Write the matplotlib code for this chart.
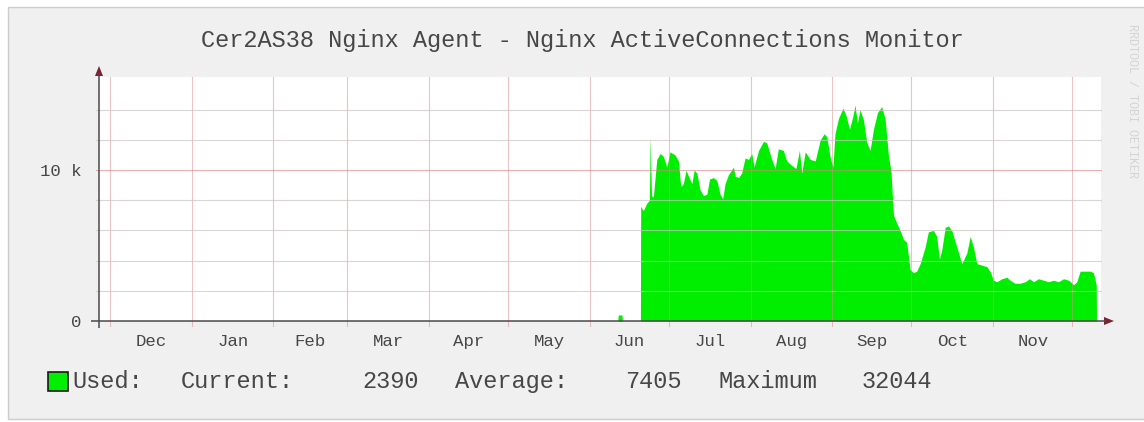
import numpy as np
import matplotlib
matplotlib.use("Agg")
import matplotlib.pyplot as plt
from matplotlib.patches import Rectangle, Polygon

# ---------------- data ----------------
title = "Cer2AS38 Nginx Agent - Nginx ActiveConnections Monitor"
month_labels = ["Dec", "Jan", "Feb", "Mar", "Apr", "May", "Jun", "Jul", "Aug", "Sep", "Oct", "Nov"]
month_lengths = [31, 31, 28, 31, 30, 31, 30, 31, 31, 30, 31, 30]
ytick_values = [0, 10000]
ytick_labels = ["0", "10 k"]
minor_grid_values = [2000, 4000, 6000, 8000, 12000, 14000]
major_grid_values = [10000]

# days since Dec 1 (start of window), connections in use
days = [192.6, 192.8, 194.2, 194.4,
        201.2, 201.3, 202.3, 203.6, 204.6, 204.9, 205.4, 206.1, 207.4, 208.7, 209.9,
        211.2, 212.4, 214.3, 215.6, 216.5, 217.5, 218.5, 219.4, 220.7, 221.6,
        222.6, 223.8, 225.1, 226.4, 227.4, 228.9, 230.2, 231.4, 232.4, 233.3,
        234.6, 235.8, 236.5, 237.1, 238.4, 239.6, 240.9, 242.2, 243.4, 244.3,
        246.0, 247.9, 249.1, 251.0, 252.3, 253.5, 255.4, 256.7, 258.6, 260.2,
        261.5, 262.4, 263.7, 265.6, 267.5, 269.4, 270.9, 271.9, 273.1, 274.2,
        275.0, 276.3, 278.0, 279.2, 280.5, 281.7, 282.6, 283.5, 284.5, 285.8,
        287.1, 288.3, 289.6, 291.1, 292.7, 294.0, 295.3, 296.2, 297.2, 298.4,
        299.7, 301.0, 302.2, 303.5, 304.8, 306.0, 307.3, 309.2, 310.4, 312.3,
        313.6, 314.6, 315.5, 316.8, 318.0, 319.3, 321.2, 323.1, 325.0, 326.3,
        327.5, 328.8, 330.7, 332.6, 333.8, 335.1, 336.4, 338.3, 340.2, 341.4,
        343.3, 345.2, 347.1, 348.8, 350.3, 352.2, 354.1, 356.0, 357.9, 359.8,
        361.7, 363.6, 365.5, 366.7, 368.0, 369.9, 371.8, 373.0, 374.1, 374.2]
used = [0, 400, 400, 0,
        0, 7600, 7300, 7800, 8000, 12200, 8300, 8200, 10700, 11100, 10900,
        10200, 11200, 11000, 10600, 8900, 9100, 10000, 9600, 9100, 10000,
        9800, 8700, 8300, 8400, 9400, 9500, 9300, 8400, 8100, 9100,
        9700, 10000, 10200, 9600, 9500, 9800, 10800, 10700, 11100, 10200,
        11300, 11900, 11800, 10700, 10100, 11400, 11300, 10600, 10300, 10100,
        11300, 9800, 11200, 10700, 10600, 12000, 12400, 12200, 10900, 10200,
        12400, 13400, 14100, 13600, 12700, 13500, 14300, 13100, 14000, 13300,
        11800, 11300, 12700, 13800, 14200, 13400, 10900, 10000, 7000, 6500,
        6000, 5400, 5200, 3400, 3200, 3300, 3800, 4900, 5900, 6000,
        5600, 4100, 4700, 6200, 6300, 6000, 4900, 3800, 4500, 5600,
        4900, 3800, 3700, 3600, 3300, 2700, 2600, 2800, 2900, 2700,
        2500, 2500, 2600, 2800, 2600, 2800, 2700, 2600, 2700, 2600,
        2800, 2700, 2400, 2600, 3300, 3300, 3300, 3200, 2390, 0]

legend_name = "Used:"
stat_labels = ["Current:", "Average:", "Maximum"]
stat_values = [2390, 7405, 32044]

# ---------------- style ----------------
W, H = 1144, 422
MONO = ["Liberation Mono", "DejaVu Sans Mono"]
TXT = "#474747"
GREEN = "#00EE00"

fig = plt.figure(figsize=(W / 100, H / 100), dpi=100, facecolor="white")

# outer frame
fig.patches.append(Rectangle((8 / W, 1 - 419 / H), (1150 - 8) / W, (419 - 7) / H,
                             transform=fig.transFigure, facecolor="#F0F0F0",
                             edgecolor="#CCCCCC", linewidth=1.0, zorder=-10))

# plot area (pixels: x 99..1101, y 77..321)
ax = fig.add_axes([99 / W, 1 - 321 / H, (1101 - 99) / W, (321 - 77) / H])
ax.set_zorder(1)
ax.set_facecolor("white")
ax.set_xlim(-4.17, 375.9)
ax.set_ylim(0, 16160)
for s in ax.spines.values():
    s.set_visible(False)

ax.fill_between(days, used, 0, color=GREEN, linewidth=0, zorder=2)

# grid drawn above the area, as rrdtool does
bounds = np.concatenate([[0], np.cumsum(month_lengths)])
for b in bounds:
    ax.axvline(b, ymin=-5 / 244, ymax=1, color="#DC8A8A", alpha=0.5,
               linewidth=0.8, clip_on=False, zorder=3)
for v in minor_grid_values:
    ax.axhline(v, xmin=-3 / 1002, xmax=1, color="#CDC4C4", alpha=0.7,
               linewidth=0.8, clip_on=False, zorder=3)
for v in major_grid_values:
    ax.axhline(v, xmin=-3 / 1002, xmax=1, color="#DC8080", alpha=0.6,
               linewidth=0.8, clip_on=False, zorder=3)

mids = bounds[:-1] + np.array(month_lengths) / 2.0
ax.set_xticks(mids, month_labels)
ax.set_yticks(ytick_values, ytick_labels)
ax.tick_params(axis="x", length=0, pad=9.5, labelsize=12.5, labelcolor=TXT)
ax.tick_params(axis="y", length=0, pad=12.5, labelsize=12.5, labelcolor=TXT)
for lab in ax.get_xticklabels() + ax.get_yticklabels():
    lab.set_fontfamily(MONO)

# overlay in pixel coordinates for axes arrows, title, legend
ov = fig.add_axes([0, 0, 1, 1], facecolor="none")
ov.set_zorder(2)
ov.patch.set_visible(False)
ov.set_xlim(0, W)
ov.set_ylim(H, 0)
ov.axis("off")

ov.plot([99, 99], [328, 73], color="#4a4a4a", linewidth=1.1, solid_capstyle="butt")
ov.plot([91, 1106], [321, 321], color="#4a4a4a", linewidth=1.1, solid_capstyle="butt")
ov.add_patch(Polygon([(95, 76), (103, 76), (99, 66)], closed=True,
                     facecolor="#7A2232", edgecolor="none"))
ov.add_patch(Polygon([(1104, 317), (1104, 325), (1114, 321)], closed=True,
                     facecolor="#7A2232", edgecolor="none"))

ov.text(582, 41, title, ha="center", va="center", fontsize=17,
        family=MONO, color=TXT)

# legend
ov.add_patch(Rectangle((48, 372), 20, 19, facecolor=GREEN, edgecolor="#1a1a1a",
                       linewidth=1.2))
ov.text(72, 381.5, legend_name, ha="left", va="center", fontsize=17,
        family=MONO, color=TXT)
for lab, x in zip(stat_labels, [181, 455, 718]):
    ov.text(x, 381.5, lab, ha="left", va="center", fontsize=17,
            family=MONO, color=TXT)
for val, x in zip(stat_values, [419, 682, 932]):
    ov.text(x, 381.5, f"{val:d}", ha="right", va="center", fontsize=17,
            family=MONO, color=TXT)

# rrdtool watermark
ov.text(1132, 101, "RRDTOOL / TOBI OETIKER", rotation=-90, ha="center",
        va="center", fontsize=8.5, family=MONO, color="#D4D4D4")

fig.savefig("out.png", dpi=100, facecolor="white")
